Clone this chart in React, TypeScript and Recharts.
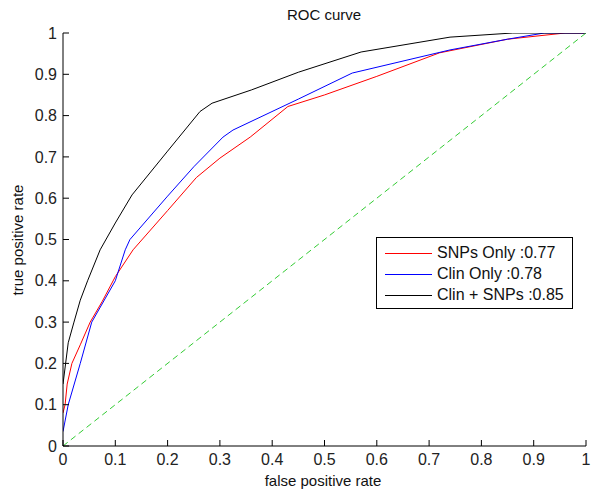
import React from 'react';
import { LineChart, Line, XAxis, YAxis, Legend, Customized } from 'recharts';

// ROC points (false positive rate / true positive rate)
const snpsFpr = [0, 0.004, 0.008, 0.017, 0.033, 0.052, 0.075, 0.1, 0.134, 0.2, 0.255, 0.3, 0.358, 0.43, 0.5, 0.6, 0.72, 0.85, 0.96, 1];
const snpsTpr = [0.08, 0.1, 0.15, 0.2, 0.245, 0.3, 0.35, 0.41, 0.475, 0.57, 0.65, 0.697, 0.748, 0.822, 0.85, 0.895, 0.952, 0.985, 1, 1];

const clinFpr = [0, 0.01, 0.033, 0.055, 0.1, 0.119, 0.128, 0.2, 0.25, 0.306, 0.325, 0.45, 0.553, 0.74, 0.85, 0.92, 1];
const clinTpr = [0.035, 0.1, 0.2, 0.3, 0.4, 0.475, 0.5, 0.605, 0.676, 0.748, 0.765, 0.84, 0.903, 0.959, 0.985, 1, 1];

const bothFpr = [0, 0.005, 0.01, 0.021, 0.033, 0.047, 0.071, 0.1, 0.132, 0.2, 0.262, 0.285, 0.36, 0.45, 0.57, 0.74, 0.86, 1];
const bothTpr = [0.15, 0.2, 0.25, 0.3, 0.353, 0.4, 0.475, 0.54, 0.608, 0.714, 0.81, 0.83, 0.862, 0.905, 0.954, 0.99, 1, 1];

const chanceRate = [0, 1];

const axisTicks = [0, 0.1, 0.2, 0.3, 0.4, 0.5, 0.6, 0.7, 0.8, 0.9, 1];

const seriesNames = ['SNPs Only :0.77', 'Clin Only :0.78', 'Clin + SNPs :0.85'];

const toPoints = (xs: number[], ys: number[]) => xs.map((x, i) => ({ x, y: ys[i] }));

const snpsData = toPoints(snpsFpr, snpsTpr);
const clinData = toPoints(clinFpr, clinTpr);
const bothData = toPoints(bothFpr, bothTpr);
const chanceData = toPoints(chanceRate, chanceRate);

const FONT = '"Liberation Sans", Arial, sans-serif';

const LegendBox = (props: any) => {
  const items = (props.payload || [])
    .filter((p: any) => seriesNames.includes(p.value))
    .sort((a: any, b: any) => seriesNames.indexOf(a.value) - seriesNames.indexOf(b.value));
  return (
    <div
      style={{
        position: 'relative',
        width: 197,
        height: 72,
        boxSizing: 'border-box',
        border: '1px solid #000',
        background: '#fff',
        fontFamily: FONT,
      }}
    >
      {items.map((p: any, i: number) => (
        <div
          key={p.value}
          style={{
            position: 'absolute',
            left: 8,
            top: 5 + i * 21,
            height: 20,
            display: 'flex',
            alignItems: 'center',
            whiteSpace: 'nowrap',
          }}
        >
          <div style={{ width: 47, height: 0, borderTop: `1px solid ${p.color}` }} />
          <span style={{ marginLeft: 5, fontSize: 16, color: '#111' }}>{p.value}</span>
        </div>
      ))}
    </div>
  );
};

const Labels = () => (
  <g fontFamily={FONT} fill="#111">
    <text x={324} y={20} textAnchor="middle" fontSize={15}>ROC curve</text>
    <text x={323} y={486} textAnchor="middle" fontSize={15}>false positive rate</text>
    <text x={23} y={240} textAnchor="middle" fontSize={15} transform="rotate(-90 23 240)">
      true positive rate
    </text>
  </g>
);

export default function App() {
  return (
    <div style={{ position: 'absolute', left: 0, top: 0, width: 601, height: 495, background: '#fff', fontFamily: FONT }}>
      <LineChart width={601} height={495} margin={{ top: 33, right: 15, left: 0, bottom: 0 }}>
        <XAxis
          type="number"
          dataKey="x"
          domain={[0, 1]}
          ticks={axisTicks}
          height={49}
          tickSize={-6}
          tickMargin={14}
          axisLine={{ stroke: '#000' }}
          tickLine={{ stroke: '#000' }}
          tick={{ fill: '#222', fontSize: 16 }}
          allowDataOverflow
        />
        <YAxis
          type="number"
          domain={[0, 1]}
          ticks={axisTicks}
          width={63}
          tickSize={-6}
          tickMargin={12}
          axisLine={{ stroke: '#000' }}
          tickLine={{ stroke: '#000' }}
          tick={{ fill: '#222', fontSize: 16 }}
          allowDataOverflow
        />
        <Line data={snpsData} dataKey="y" name={seriesNames[0]} stroke="#ff0000" strokeWidth={1} dot={false} type="linear" isAnimationActive={false} />
        <Line data={clinData} dataKey="y" name={seriesNames[1]} stroke="#0000ff" strokeWidth={1} dot={false} type="linear" isAnimationActive={false} />
        <Line data={bothData} dataKey="y" name={seriesNames[2]} stroke="#000000" strokeWidth={1} dot={false} type="linear" isAnimationActive={false} />
        <Line data={chanceData} dataKey="y" name="chance" legendType="none" stroke="#33cc33" strokeWidth={1} strokeDasharray="6 4" dot={false} type="linear" isAnimationActive={false} />
        <Legend
          layout="vertical"
          align="center"
          verticalAlign="middle"
          content={<LegendBox />}
          wrapperStyle={{ position: 'absolute', left: 376, top: 237, width: 197, height: 72 }}
        />
        <Customized component={Labels} />
      </LineChart>
    </div>
  );
}
